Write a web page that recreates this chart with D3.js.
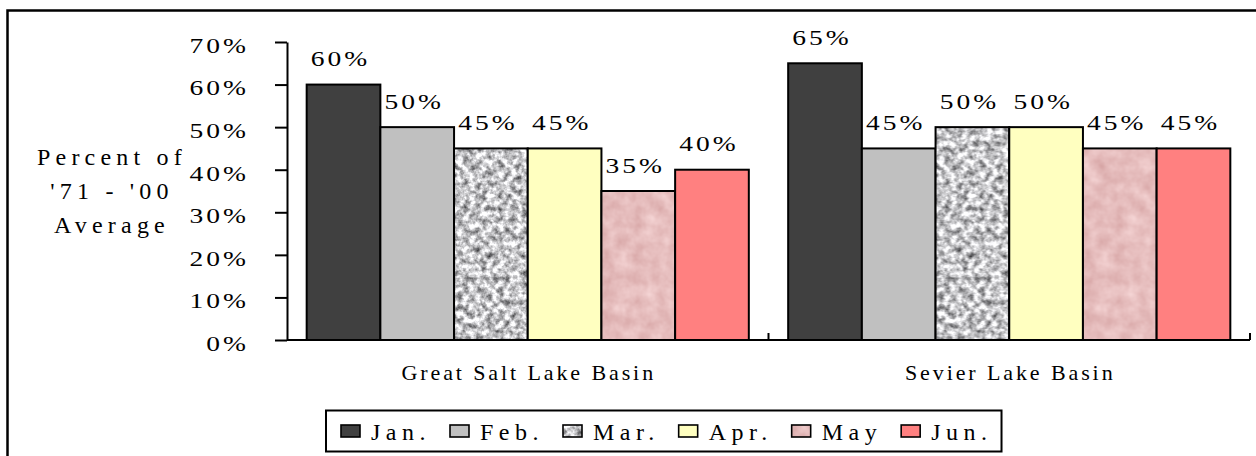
<!DOCTYPE html>
<html><head><meta charset="utf-8">
<script src="https://cdn.jsdelivr.net/npm/d3@7"></script>
<style>
body{margin:0;background:#fff}
svg{display:block}
svg text{font-family:'Liberation Serif','Times New Roman',Times,'Nimbus Roman','DejaVu Serif',serif;fill:#000}
</style>
</head><body>
<svg id="c" width="1256" height="456"></svg>
<script>
// ---- data ----
const categories = ["Great Salt Lake Basin", "Sevier Lake Basin"];
const months = ["Jan.", "Feb.", "Mar.", "Apr.", "May", "Jun."];
const janValues = [0.60, 0.65];
const febValues = [0.50, 0.45];
const marValues = [0.45, 0.50];
const aprValues = [0.45, 0.50];
const mayValues = [0.35, 0.45];
const junValues = [0.40, 0.45];
const yTicks = [0, 0.1, 0.2, 0.3, 0.4, 0.5, 0.6, 0.7];
const yTitle = ["Percent of", "'71 - '00", "Average"];

const seriesValues = [janValues, febValues, marValues, aprValues, mayValues, junValues];
const fills = ["#404040", "#c0c0c0", "url(#patMar)", "#ffffc0", "url(#patMay)", "#ff8080"];
const FONT = "'Liberation Serif','Times New Roman',Times,'DejaVu Serif',serif";

const svg = d3.select("#c").attr("font-family", FONT);

// ---- textures ----
const defs = svg.append("defs");
const fG = defs.append("filter").attr("id", "fGranite")
  .attr("x", 0).attr("y", 0).attr("width", 1).attr("height", 1)
  .attr("color-interpolation-filters", "sRGB");
fG.append("feTurbulence").attr("type", "fractalNoise").attr("baseFrequency", 0.17)
  .attr("numOctaves", 3).attr("seed", 7);
fG.append("feColorMatrix").attr("type", "matrix")
  .attr("values", "1.3 0 0 0 0.12  1.3 0 0 0 0.12  1.3 0 0 0 0.13  0 0 0 0 1");
defs.append("pattern").attr("id", "patMar").attr("patternUnits", "userSpaceOnUse")
  .attr("width", 600).attr("height", 456)
  .append("rect").attr("width", 600).attr("height", 456).attr("filter", "url(#fGranite)");

const fM = defs.append("filter").attr("id", "fPink")
  .attr("x", 0).attr("y", 0).attr("width", 1).attr("height", 1)
  .attr("color-interpolation-filters", "sRGB");
fM.append("feTurbulence").attr("type", "fractalNoise").attr("baseFrequency", 0.07)
  .attr("numOctaves", 3).attr("seed", 3);
fM.append("feColorMatrix").attr("type", "matrix")
  .attr("values", "0.14 0 0 0 0.83  0.22 0 0 0 0.63  0.22 0 0 0 0.63  0 0 0 0 1");
defs.append("pattern").attr("id", "patMay").attr("patternUnits", "userSpaceOnUse")
  .attr("width", 600).attr("height", 456)
  .append("rect").attr("width", 600).attr("height", 456).attr("filter", "url(#fPink)");

// ---- outer frame ----
svg.append("rect").attr("x", 7.5).attr("y", 10.5).attr("width", 1400).attr("height", 600)
  .attr("fill", "none").attr("stroke", "#000").attr("stroke-width", 2.5);

// ---- scales ----
const y = d3.scaleLinear().domain([0, 0.7]).range([340, 42]);
const x0 = d3.scaleBand().domain(categories).range([287, 1250]);
const x1 = d3.scaleBand().domain(months).range([0, x0.bandwidth()])
  .paddingInner(0).paddingOuter(0.267);

// ---- bars ----
const groups = svg.append("g").selectAll("g").data(categories).join("g")
  .attr("transform", d => `translate(${x0(d)},0)`);
groups.each(function(cat, ci) {
  const g = d3.select(this);
  months.forEach((m, mi) => {
    const v = seriesValues[mi][ci];
    g.append("rect")
      .attr("x", x1(m)).attr("y", y(v))
      .attr("width", x1.bandwidth()).attr("height", y(0) - y(v))
      .attr("fill", fills[mi]).attr("stroke", "#000").attr("stroke-width", 2);
  });
  months.forEach((m, mi) => {
    const v = seriesValues[mi][ci];
    g.append("text")
      .attr("transform", `translate(${x1(m) + x1.bandwidth() / 2 - 3},${y(v) - 18.5}) scale(1.25,1)`)
      .attr("text-anchor", "middle").attr("font-size", 22)
      .style("font-family", FONT)
      .style("letter-spacing", "2.4px")
      .text(d3.format(".0%")(v));
  });
});

// ---- y axis ----
const yAxis = svg.append("g").attr("transform", "translate(287,0)")
  .call(d3.axisLeft(y).tickValues(yTicks).tickSize(12).tickSizeOuter(0)
    .tickFormat(d3.format(".0%")));
yAxis.attr("font-family", FONT).attr("font-size", 22);
yAxis.selectAll("path,line").attr("stroke", "#000").attr("stroke-width", 2);
yAxis.selectAll("text").attr("x", 0).attr("dy", "0.47em")
  .attr("transform", "translate(-38,0) scale(1.25,1)")
  .style("font-family", FONT)
  .style("letter-spacing", "2.4px");

// ---- x axis ----
svg.append("line").attr("x1", 287).attr("x2", 1250).attr("y1", y(0)).attr("y2", y(0))
  .attr("stroke", "#000").attr("stroke-width", 2);
svg.append("g").selectAll("line").data(categories).join("line")
  .attr("x1", d => x0(d) + x0.bandwidth()).attr("x2", d => x0(d) + x0.bandwidth())
  .attr("y1", y(0)).attr("y2", y(0) - 7)
  .attr("stroke", "#000").attr("stroke-width", 2);
svg.append("g").selectAll("text").data(categories).join("text")
  .attr("x", d => x0(d) + x0.bandwidth() / 2 + 1).attr("y", 380)
  .attr("text-anchor", "middle").attr("font-size", 22)
  .style("font-family", FONT)
  .style("letter-spacing", "2.9px").text(d => d);

// ---- y title ----
svg.append("g").selectAll("text").data(yTitle).join("text")
  .attr("x", 112).attr("y", (d, i) => 165 + i * 34)
  .attr("text-anchor", "middle").attr("font-size", 24)
  .style("font-family", FONT)
  .style("letter-spacing", "5.2px").text(d => d);

// ---- legend ----
const lg = svg.append("g");
const box = lg.append("rect").attr("x", 326).attr("y", 410.5).attr("height", 41)
  .attr("fill", "#fff").attr("stroke", "#000").attr("stroke-width", 2);
let lx = 341;
months.forEach((m, i) => {
  lg.append("rect").attr("x", lx).attr("y", 425).attr("width", 19).attr("height", 12)
    .attr("fill", fills[i]).attr("stroke", "#000").attr("stroke-width", 1.6);
  const t = lg.append("text").attr("x", lx + 30).attr("y", 440).attr("font-size", 24)
    .style("font-family", FONT)
    .style("letter-spacing", "5.5px").text(m);
  const w = t.node().getComputedTextLength();
  lx = lx + 30 + w + 19;
});
box.attr("width", lx - 19 + 9 - 326);
</script>
</body></html>
